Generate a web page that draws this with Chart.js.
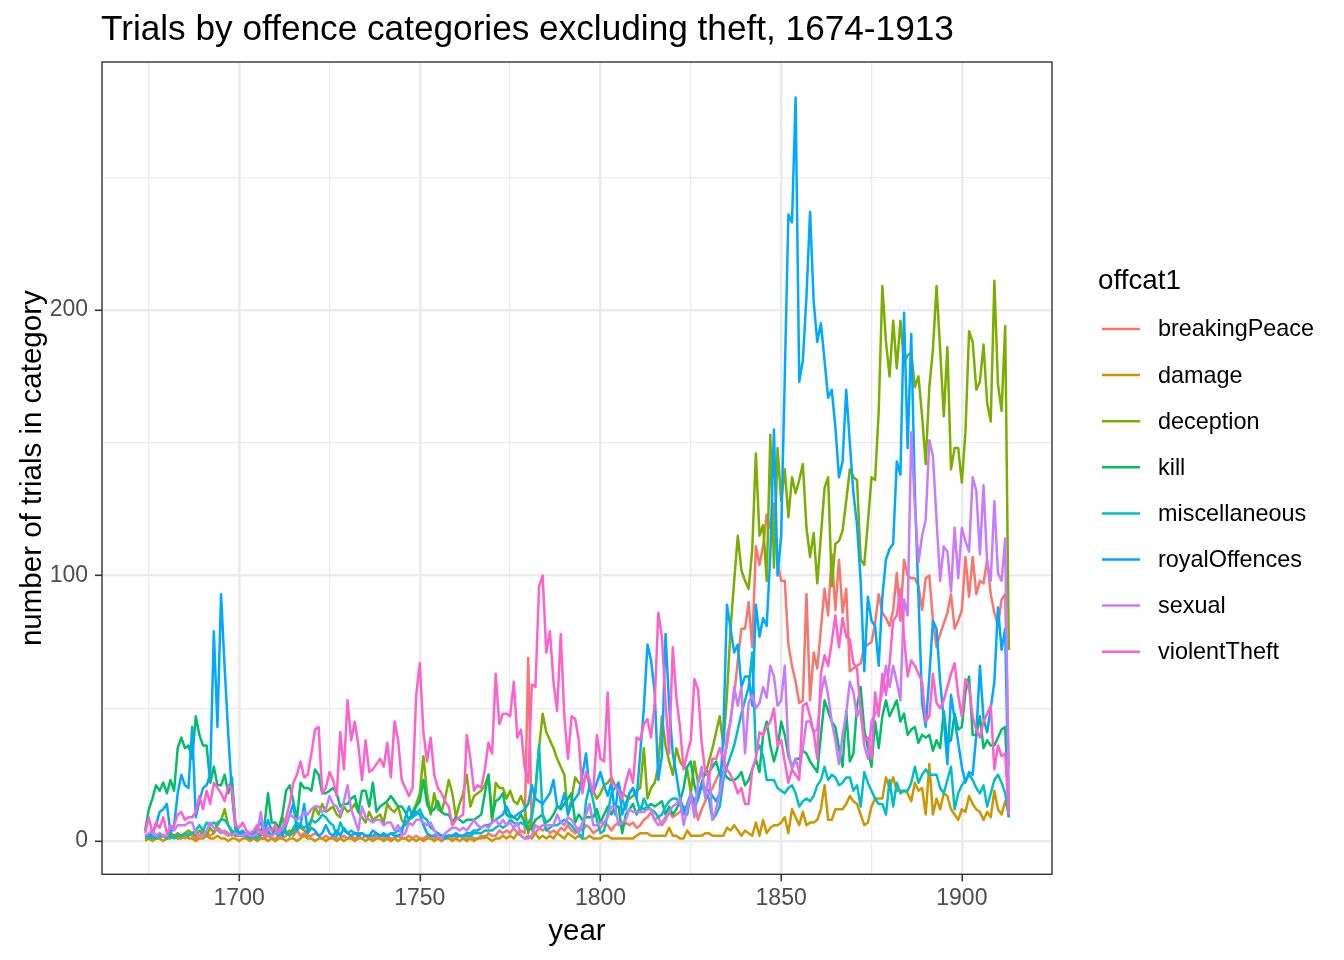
<!DOCTYPE html>
<html>
<head>
<meta charset="utf-8">
<script src="https://cdn.jsdelivr.net/npm/chart.js@4.4.1/dist/chart.umd.min.js"></script>
<style>
  html, body { margin: 0; padding: 0; background: #ffffff; }
  #wrap { width: 1344px; height: 960px; }
</style>
</head>
<body>
<div id="wrap"><canvas id="chart" width="1344" height="960"></canvas></div>
<script>
// Trials per year, 1674-1913, one value per year (rows of ten years)
const FIRST_YEAR = 1674;
const LAST_YEAR = 1913;

const categories = ["breakingPeace", "damage", "deception", "kill",
  "miscellaneous", "royalOffences", "sexual", "violentTheft"];
const colours = ["#F8766D", "#CD9600", "#7CAE00", "#00BE67",
  "#00BFC4", "#00A9FF", "#C77CFF", "#FF61CC"];

const breakingPeace = [
  1, 1, 2, 1, 1, 2, 1, 3, 2, 1,
  2, 1, 3, 2, 1, 2, 4, 3, 2, 3,
  5, 4, 3, 2, 3, 2, 3, 2, 1, 2,
  1, 2, 1, 1, 2, 1, 1, 2, 1, 2,
  3, 2, 4, 2, 3, 2, 2, 3, 2, 1,
  2, 1, 2, 1, 1, 2, 1, 2, 1, 2,
  1, 2, 1, 1, 2, 1, 1, 2, 1, 1,
  2, 1, 1, 2, 1, 2, 1, 1, 2, 1,
  1, 2, 1, 1, 2, 1, 1, 2, 1, 1,
  2, 1, 1, 2, 1, 3, 2, 2, 4, 3,
  4, 3, 5, 3, 4, 3, 69, 4, 3, 5,
  4, 5, 3, 4, 3, 5, 4, 6, 4, 3,
  5, 4, 6, 5, 3, 4, 5, 7, 6, 4,
  6, 7, 5, 7, 6, 7, 5, 6, 8, 9,
  11, 8, 9, 6, 8, 11, 9, 10, 11, 13,
  12, 16, 14, 8, 12, 15, 18, 20, 23, 26,
  30, 36, 46, 55, 68, 80, 80, 90, 73, 111,
  104, 111, 123, 118, 127, 105, 98, 98, 74, 66,
  60, 52, 53, 93, 53, 71, 65, 80, 95, 85,
  108, 87, 106, 86, 95, 64, 65, 66, 67, 73,
  74, 75, 82, 93, 86, 84, 81, 87, 101, 83,
  106, 100, 99, 99, 96, 87, 99, 100, 83, 73,
  78, 82, 86, 93, 80, 83, 87, 107, 92, 107,
  93, 98, 97, 106, 93, 86, 81, 91, 93, 28
];

const damage = [
  0, 1, 0, 1, 1, 0, 1, 1, 2, 1,
  1, 2, 1, 1, 0, 1, 1, 2, 1, 1,
  2, 1, 1, 0, 1, 1, 0, 1, 1, 0,
  1, 0, 1, 1, 0, 1, 0, 1, 1, 0,
  1, 1, 0, 1, 2, 1, 1, 0, 1, 1,
  0, 1, 1, 0, 1, 0, 1, 1, 0, 1,
  1, 0, 1, 0, 1, 1, 0, 1, 0, 1,
  0, 1, 1, 0, 1, 0, 1, 0, 1, 1,
  0, 1, 0, 1, 1, 0, 1, 0, 1, 0,
  1, 0, 1, 1, 2, 1, 0, 1, 1, 2,
  1, 2, 1, 3, 2, 1, 2, 1, 3, 1,
  2, 1, 2, 1, 3, 2, 1, 3, 2, 1,
  2, 1, 1, 2, 1, 1, 1, 2, 2, 1,
  1, 1, 1, 1, 1, 1, 2, 3, 3, 3,
  2, 2, 2, 2, 2, 5, 2, 2, 1, 1,
  4, 2, 2, 2, 2, 3, 3, 2, 2, 2,
  2, 5, 4, 6, 4, 2, 4, 3, 2, 7,
  2, 8, 3, 5, 6, 6, 7, 9, 3, 12,
  9, 6, 11, 6, 7, 7, 8, 12, 21, 8,
  8, 12, 12, 12, 14, 17, 15, 14, 10, 6,
  7, 13, 16, 16, 16, 24, 20, 24, 19, 19,
  19, 18, 15, 22, 19, 20, 10, 29, 10, 16,
  12, 18, 17, 12, 10, 8, 12, 11, 17, 14,
  12, 11, 8, 11, 9, 19, 12, 10, 15, 11
];

const deception = [
  1, 2, 1, 2, 3, 2, 2, 3, 2, 3,
  2, 3, 4, 3, 2, 4, 3, 2, 5, 3,
  7, 8, 12, 6, 3, 2, 2, 3, 2, 1,
  2, 3, 2, 4, 3, 2, 5, 4, 9, 3,
  4, 3, 6, 5, 4, 3, 8, 13, 10, 14,
  11, 12, 13, 10, 9, 13, 11, 12, 14, 11,
  9, 7, 11, 8, 9, 10, 7, 14, 12, 11,
  13, 8, 6, 8, 11, 14, 18, 32, 18, 10,
  18, 12, 11, 16, 23, 18, 9, 14, 18, 25,
  13, 17, 18, 19, 21, 25, 7, 22, 20, 20,
  16, 19, 15, 14, 17, 13, 3, 10, 20, 35,
  48, 41, 38, 35, 31, 28, 25, 10, 16, 24,
  22, 21, 25, 22, 19, 16, 18, 21, 22, 24,
  21, 19, 18, 17, 16, 17, 19, 20, 35, 16,
  20, 22, 28, 47, 36, 30, 25, 35, 30, 28,
  27, 18, 30, 22, 26, 25, 30, 35, 41, 47,
  36, 55, 80, 98, 115, 102, 98, 95, 110, 146,
  115, 119, 98, 153, 103, 148, 128, 140, 122, 137,
  131, 136, 142, 118, 107, 116, 97, 115, 133, 137,
  96, 112, 113, 117, 128, 140, 137, 136, 106, 104,
  120, 137, 136, 162, 209, 188, 175, 196, 178, 196,
  180, 183, 184, 171, 175, 160, 142, 171, 185, 209,
  185, 160, 186, 140, 148, 148, 135, 154, 192, 188,
  170, 173, 187, 165, 158, 211, 172, 162, 194, 72
];

const kill = [
  4, 12, 16, 21, 19, 22, 18, 23, 19, 35,
  39, 35, 36, 31, 47, 40, 36, 36, 22, 28,
  21, 21, 25, 18, 24, 6, 3, 2, 3, 2,
  3, 5, 4, 6, 18, 7, 7, 5, 10, 19,
  21, 15, 8, 22, 20, 20, 19, 27, 25, 18,
  18, 19, 20, 18, 13, 14, 14, 16, 17, 11,
  19, 19, 13, 22, 11, 13, 14, 15, 17, 15,
  13, 13, 11, 8, 10, 13, 15, 23, 14, 11,
  12, 15, 11, 10, 10, 7, 9, 8, 7, 8,
  8, 8, 9, 10, 18, 25, 9, 15, 16, 18,
  10, 9, 9, 8, 10, 7, 4, 5, 8, 9,
  10, 7, 8, 10, 13, 12, 14, 16, 18, 7,
  10, 8, 9, 9, 9, 12, 7, 10, 13, 10,
  13, 13, 3, 10, 12, 14, 10, 13, 12, 13,
  14, 13, 14, 15, 10, 13, 10, 12, 15, 20,
  28, 30, 21, 16, 22, 26, 26, 28, 30, 25,
  26, 24, 23, 23, 24, 26, 21, 23, 27, 31,
  26, 40, 45, 36, 30, 35, 45, 40, 32, 28,
  31, 31, 34, 33, 30, 28, 26, 40, 53, 49,
  45, 43, 35, 28, 49, 30, 33, 51, 58, 42,
  35, 28, 45, 35, 47, 53, 47, 50, 53, 45,
  48, 40, 42, 43, 37, 40, 39, 40, 34, 38,
  35, 49, 37, 38, 48, 42, 43, 56, 62, 40,
  40, 47, 35, 38, 36, 36, 39, 42, 43, 11
];

const miscellaneous = [
  2, 1, 2, 1, 2, 2, 1, 2, 1, 2,
  2, 3, 2, 3, 4, 6, 4, 7, 6, 7,
  6, 8, 8, 6, 4, 3, 2, 3, 2, 1,
  2, 1, 3, 2, 4, 2, 3, 2, 4, 3,
  2, 5, 7, 6, 5, 6, 8, 7, 8, 10,
  9, 7, 6, 2, 7, 4, 3, 4, 3, 3,
  3, 2, 2, 2, 3, 2, 2, 2, 3, 3,
  4, 5, 7, 8, 9, 10, 12, 9, 8, 5,
  4, 3, 2, 2, 2, 2, 2, 2, 2, 2,
  2, 3, 3, 3, 4, 4, 4, 5, 6, 5,
  6, 8, 7, 6, 7, 6, 7, 9, 18, 36,
  10, 4, 5, 6, 6, 7, 8, 7, 6, 4,
  3, 1, 15, 21, 15, 8, 3, 4, 10, 18,
  20, 22, 16, 12, 18, 20, 16, 11, 16, 13,
  12, 11, 9, 10, 13, 15, 16, 16, 14, 10,
  14, 18, 15, 18, 21, 18, 16, 8, 10, 13,
  23, 28, 32, 36, 42, 48, 53, 58, 71, 33,
  36, 32, 23, 23, 23, 20, 19, 18, 20, 21,
  18, 13, 15, 16, 15, 17, 21, 23, 28, 23,
  25, 24, 21, 22, 24, 24, 19, 21, 13, 26,
  22, 19, 16, 14, 14, 10, 23, 13, 22, 18,
  19, 19, 22, 28, 22, 25, 27, 25, 25, 25,
  20, 18, 23, 28, 12, 18, 21, 23, 25, 23,
  20, 18, 21, 13, 18, 23, 25, 22, 18, 9
];

const royalOffences = [
  2, 2, 3, 6, 11, 12, 14, 3, 6, 18,
  25, 21, 20, 43, 9, 15, 20, 21, 25, 79,
  43, 93, 65, 40, 18, 4, 3, 4, 2, 3,
  2, 5, 7, 3, 8, 4, 3, 5, 2, 6,
  10, 14, 4, 6, 14, 3, 5, 4, 2, 3,
  6, 3, 2, 4, 2, 5, 3, 2, 3, 2,
  3, 2, 2, 4, 3, 2, 3, 2, 3, 2,
  2, 3, 9, 13, 9, 11, 10, 6, 3, 2,
  2, 3, 2, 1, 2, 2, 3, 2, 2, 3,
  3, 4, 4, 5, 6, 6, 7, 8, 9, 10,
  13, 10, 9, 10, 11, 12, 14, 21, 16, 15,
  14, 16, 18, 23, 13, 13, 18, 10, 14, 16,
  18, 25, 33, 19, 18, 22, 26, 21, 17, 22,
  10, 22, 10, 14, 18, 20, 16, 33, 50, 74,
  68, 56, 23, 32, 78, 51, 33, 25, 16, 12,
  10, 18, 12, 16, 21, 20, 19, 17, 15, 18,
  40, 89, 80, 71, 74, 58, 62, 62, 51, 89,
  77, 84, 81, 108, 155, 100, 115, 175, 236, 233,
  280, 173, 181, 205, 237, 203, 188, 195, 181, 167,
  170, 156, 137, 143, 170, 150, 131, 119, 98, 64,
  92, 83, 81, 66, 92, 106, 110, 112, 143, 138,
  199, 148, 191, 131, 92, 52, 43, 62, 83, 80,
  60, 46, 29, 55, 46, 37, 28, 22, 26, 25,
  40, 66, 46, 41, 50, 60, 88, 72, 80, 9
];

const sexual = [
  2, 3, 4, 2, 3, 2, 2, 6, 4, 6,
  6, 6, 7, 7, 3, 2, 2, 4, 7, 5,
  4, 3, 4, 3, 2, 3, 2, 2, 3, 2,
  2, 3, 11, 2, 2, 2, 3, 4, 5, 7,
  10, 9, 8, 9, 11, 10, 12, 13, 13, 11,
  12, 17, 14, 13, 10, 15, 21, 12, 8, 4,
  13, 9, 8, 7, 8, 8, 6, 7, 7, 4,
  6, 2, 3, 7, 6, 8, 8, 7, 6, 7,
  4, 2, 1, 3, 4, 5, 5, 4, 5, 4,
  6, 8, 6, 5, 6, 5, 7, 8, 6, 8,
  6, 7, 5, 7, 2, 1, 1, 2, 6, 5,
  6, 6, 6, 6, 10, 7, 6, 9, 8, 6,
  3, 7, 10, 14, 6, 6, 7, 7, 9, 13,
  13, 6, 7, 8, 12, 11, 11, 11, 11, 12,
  12, 8, 6, 7, 9, 11, 13, 14, 16, 6,
  12, 18, 9, 22, 28, 16, 26, 8, 12, 18,
  25, 40, 45, 58, 51, 58, 33, 52, 55, 50,
  52, 58, 54, 66, 62, 51, 53, 66, 34, 27,
  31, 26, 35, 45, 45, 41, 42, 55, 62, 55,
  45, 38, 29, 40, 48, 60, 56, 47, 50, 36,
  31, 45, 48, 50, 56, 66, 58, 66, 60, 53,
  91, 85, 154, 126, 105, 115, 121, 151, 145, 121,
  98, 111, 109, 94, 118, 99, 118, 113, 109, 137,
  132, 108, 134, 105, 98, 128, 101, 98, 114, 13
];

const violentTheft = [
  3, 9, 3, 7, 5, 9, 3, 5, 6, 10,
  11, 8, 9, 9, 11, 17, 12, 19, 14, 22,
  20, 18, 15, 21, 20, 6, 5, 7, 4, 3,
  4, 6, 3, 2, 5, 4, 6, 3, 5, 9,
  14, 22, 25, 30, 24, 25, 33, 42, 43, 18,
  20, 26, 23, 17, 41, 27, 53, 38, 45, 36,
  23, 38, 26, 27, 29, 31, 28, 37, 24, 45,
  38, 23, 20, 17, 20, 55, 67, 41, 30, 39,
  25, 20, 18, 15, 13, 6, 8, 9, 10, 40,
  31, 19, 21, 20, 27, 37, 33, 63, 44, 48,
  48, 47, 60, 39, 42, 28, 22, 59, 58, 96,
  100, 71, 79, 60, 49, 78, 47, 31, 47, 46,
  38, 18, 26, 23, 18, 40, 31, 30, 56, 22,
  21, 19, 16, 22, 27, 22, 39, 38, 44, 46,
  39, 52, 86, 77, 52, 33, 73, 54, 43, 27,
  33, 38, 61, 57, 37, 26, 24, 31, 31, 35,
  31, 27, 25, 22, 18, 20, 14, 14, 27, 31,
  41, 40, 43, 45, 50, 36, 38, 30, 22, 27,
  25, 23, 51, 52, 47, 41, 31, 63, 70, 66,
  75, 85, 73, 84, 77, 76, 67, 65, 48, 38,
  39, 31, 56, 47, 63, 55, 67, 83, 85, 95,
  77, 62, 68, 66, 63, 60, 45, 47, 63, 52,
  50, 53, 58, 63, 67, 55, 47, 61, 58, 47,
  42, 39, 45, 48, 51, 27, 36, 32, 33, 10
];

const xGridValues = [1675, 1700, 1725, 1750, 1775, 1800, 1825, 1850, 1875, 1900];
const xTickLabels = [1700, 1750, 1800, 1850, 1900];
const yGridValues = [0, 50, 100, 150, 200, 250];
const yTickLabels = [0, 100, 200];

const chartTitle = "Trials by offence categories excluding theft, 1674-1913";
const xTitle = "year";
const yTitle = "number of trials in category";
const legendTitle = "offcat1";

const seriesValues = [breakingPeace, damage, deception, kill,
  miscellaneous, royalOffences, sexual, violentTheft];

const years = [];
for (let y = FIRST_YEAR; y <= LAST_YEAR; y++) years.push(y);

const FONT = "'Liberation Sans', Arial, Helvetica, sans-serif";

const datasets = categories.map((name, i) => ({
  label: name,
  data: seriesValues[i].map((v, k) => ({ x: years[k], y: v })),
  borderColor: colours[i],
  backgroundColor: colours[i],
  borderWidth: 2.5,
  borderJoinStyle: "round",
  pointRadius: 0,
  tension: 0,
  fill: false,
  order: categories.length - i   // later groups drawn on top, as in ggplot
}));

// title, axis titles, legend and panel border drawn around the chart area
const decorPlugin = {
  id: "decor",
  afterDraw(chart) {
    const ctx = chart.ctx;
    const a = chart.chartArea;
    ctx.save();

    ctx.strokeStyle = "#333333";
    ctx.lineWidth = 1.4;
    ctx.strokeRect(a.left, a.top, a.right - a.left, a.bottom - a.top);

    ctx.fillStyle = "#000000";
    ctx.textAlign = "left";
    ctx.textBaseline = "alphabetic";
    ctx.font = "35.2px " + FONT;
    ctx.fillText(chartTitle, 101, 40);

    ctx.font = "29.5px " + FONT;
    ctx.textAlign = "center";
    ctx.fillText(xTitle, (a.left + a.right) / 2, 940);

    ctx.save();
    ctx.translate(41, (a.top + a.bottom) / 2);
    ctx.rotate(-Math.PI / 2);
    ctx.fillText(yTitle, 0, 0);
    ctx.restore();

    ctx.font = "27.8px " + FONT;
    ctx.textAlign = "left";
    ctx.fillText(legendTitle, 1098, 289);

    ctx.font = "23.4px " + FONT;
    ctx.textBaseline = "middle";
    categories.forEach((name, i) => {
      const cy = 329 + i * 46.1;
      ctx.strokeStyle = colours[i];
      ctx.lineWidth = 2.5;
      ctx.beginPath();
      ctx.moveTo(1102, cy);
      ctx.lineTo(1140, cy);
      ctx.stroke();
      ctx.fillStyle = "#000000";
      ctx.fillText(name, 1158, cy + 1);
    });
    ctx.restore();
  }
};

new Chart(document.getElementById("chart"), {
  type: "line",
  data: { datasets },
  options: {
    responsive: false,
    animation: false,
    devicePixelRatio: 1,
    events: [],
    layout: { padding: { left: 0, top: 62, right: 292, bottom: 0 } },
    plugins: {
      legend: { display: false },
      title: { display: false },
      tooltip: { enabled: false }
    },
    scales: {
      x: {
        type: "linear",
        min: 1662.05,
        max: 1924.95,
        afterBuildTicks: (s) => { s.ticks = xGridValues.map(v => ({ value: v })); },
        afterFit: (s) => { s.height = 85.7; },
        border: { display: false },
        grid: {
          color: "#EBEBEB",
          lineWidth: (c) => xTickLabels.includes(c.tick.value) ? 2.6 : 1.3,
          tickLength: 7,
          tickWidth: 1.6,
          tickColor: (c) => xTickLabels.includes(c.tick.value) ? "#333333" : "rgba(0,0,0,0)"
        },
        ticks: {
          autoSkip: false,
          maxRotation: 0,
          padding: 4,
          color: "#4D4D4D",
          font: { family: FONT, size: 23 },
          callback: (v) => xTickLabels.includes(v) ? String(v) : ""
        }
      },
      y: {
        type: "linear",
        min: -12.5,
        max: 293.4,
        afterBuildTicks: (s) => { s.ticks = yGridValues.map(v => ({ value: v })); },
        afterFit: (s) => { s.width = 102; },
        border: { display: false },
        grid: {
          color: "#EBEBEB",
          lineWidth: (c) => yTickLabels.includes(c.tick.value) ? 2.6 : 1.3,
          tickLength: 7,
          tickWidth: 1.6,
          tickColor: (c) => yTickLabels.includes(c.tick.value) ? "#333333" : "rgba(0,0,0,0)"
        },
        ticks: {
          autoSkip: false,
          padding: 7,
          color: "#4D4D4D",
          font: { family: FONT, size: 23 },
          callback: (v) => yTickLabels.includes(v) ? String(v) : ""
        }
      }
    }
  },
  plugins: [decorPlugin]
});
</script>
</body>
</html>
